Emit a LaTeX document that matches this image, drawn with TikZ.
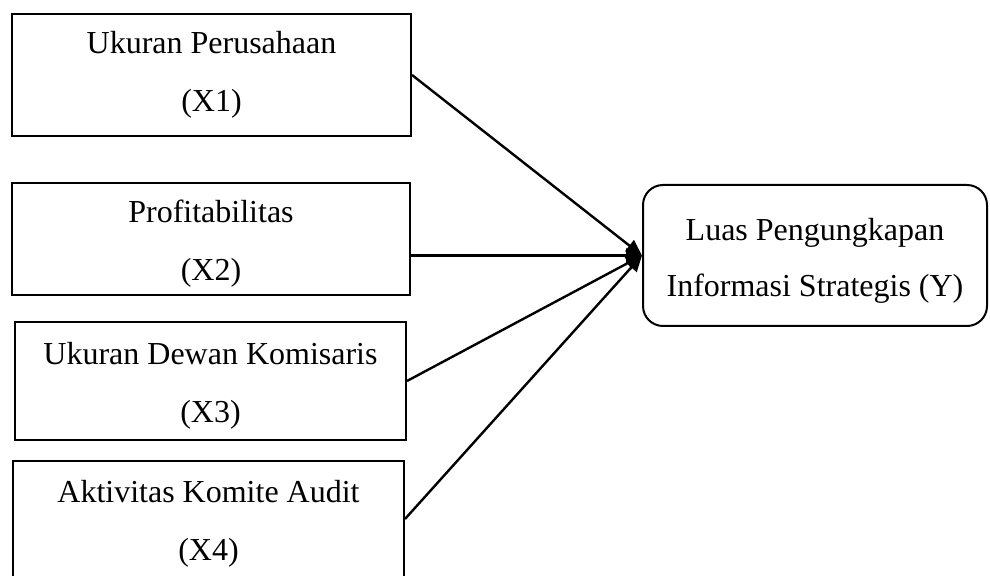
\documentclass[tikz,border=0pt]{standalone}
\usepackage{fontspec}
\setmainfont{Liberation Serif}
\usetikzlibrary{arrows.meta,calc}
\newcommand{\upstrut}{\rule{0pt}{16pt}}

\begin{document}
\begin{tikzpicture}[
  x=0.5pt,y=-0.5pt,
  >={Triangle[length=8pt,width=7pt]},
  every node/.style={font=\fontsize{16}{29}\selectfont},
  varbox/.style={draw,line width=1pt,inner sep=0pt,align=center},
  link/.style={->,line width=1.2pt}
]
\useasboundingbox (0,0) rectangle (990,576);
% independent variables
\node[varbox,minimum width=199.5pt,minimum height=61pt] (X1) at (211.5,75) {Ukuran Perusahaan\\(X1)};
\node[varbox,minimum width=199pt,minimum height=56pt] (X2) at (211,239) {\upstrut Profitabilitas\\(X2)};
\node[varbox,minimum width=195.5pt,minimum height=59pt] (X3) at (210.5,381) {\upstrut Ukuran Dewan Komisaris\\(X3)};
\node[varbox,minimum width=195.5pt,minimum height=58pt] (X4) at (208.5,519) {\upstrut Aktivitas Komite Audit\\(X4)};
% dependent variable
\node[varbox,rounded corners=10pt,minimum width=172pt,minimum height=70.5pt,
  font=\fontsize{16}{28}\selectfont] (Y) at (815,255.5) {\upstrut Luas Pengungkapan\\Informasi Strategis (Y)};
\foreach \v in {X1,X3,X4} {
  \draw[link] (\v.east) -- (Y.west);
}
\draw[link] (X2.east |- Y.west) -- (Y.west);
\end{tikzpicture}
\end{document}
